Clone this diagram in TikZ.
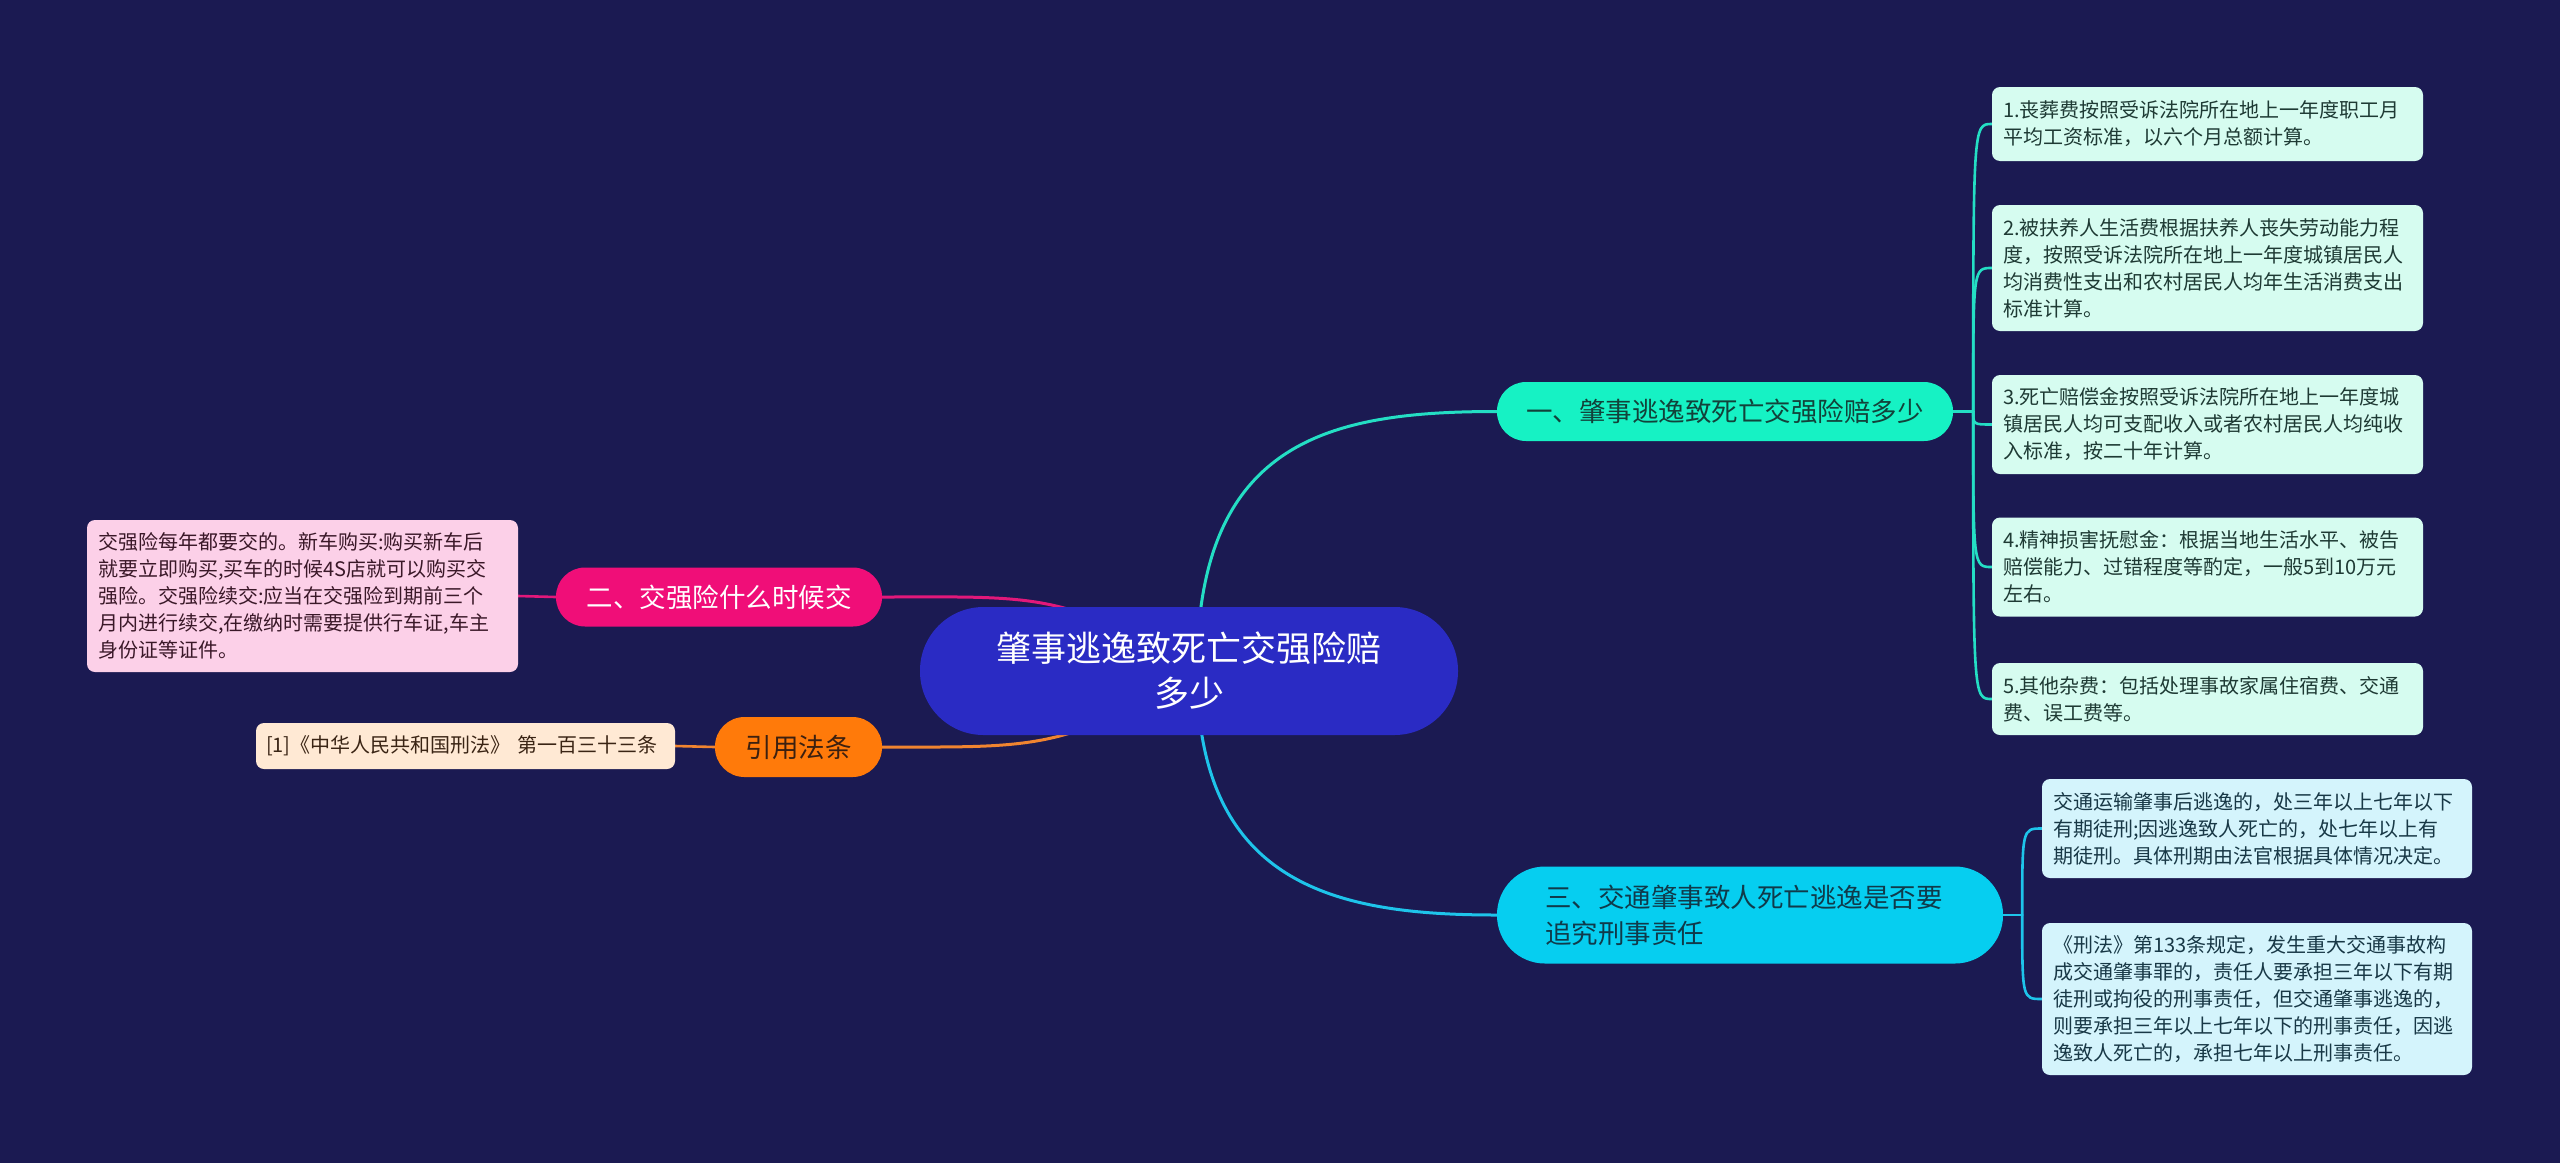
\documentclass[tikz,border=0pt]{standalone}
\usepackage{fontspec}
\setmainfont{Noto Sans CJK SC}
\usetikzlibrary{backgrounds,calc}
\definecolor{bg}{RGB}{27,26,82}
\definecolor{cfill}{RGB}{42,43,196}
\definecolor{tealfill}{RGB}{22,242,196}
\definecolor{tealline}{RGB}{36,222,196}
\definecolor{tealtext}{RGB}{18,66,58}
\definecolor{cyanfill}{RGB}{6,206,240}
\definecolor{cyanline}{RGB}{30,196,234}
\definecolor{cyantext}{RGB}{16,58,74}
\definecolor{pinkfill}{RGB}{240,14,120}
\definecolor{pinkline}{RGB}{226,24,122}
\definecolor{orangefill}{RGB}{255,122,10}
\definecolor{orangeline}{RGB}{240,132,48}
\definecolor{orangetext}{RGB}{60,32,16}
\definecolor{mintleaf}{RGB}{214,252,240}
\definecolor{mintleaftext}{RGB}{30,58,52}
\definecolor{cyanleaf}{RGB}{212,244,252}
\definecolor{cyanleaftext}{RGB}{24,56,70}
\definecolor{pinkleaf}{RGB}{252,208,232}
\definecolor{pinkleaftext}{RGB}{58,24,40}
\definecolor{peachleaf}{RGB}{255,233,212}
\definecolor{peachleaftext}{RGB}{58,36,20}
\tikzset{
  central/.style={fill=cfill, text=white, rounded corners=63.5pt, minimum width=538pt,
    minimum height=128pt, inner sep=0pt, align=center, font=\fontsize{35}{45}\selectfont},
  branch/.style={inner sep=0pt, align=center, font=\fontsize{26.5}{36}\selectfont},
  leaf/.style={rounded corners=8pt, inner xsep=11pt, inner ysep=0pt, align=left,
    font=\fontsize{20}{27}\selectfont},
  mleaf/.style={leaf, fill=mintleaf, text=mintleaftext, text width=409pt, minimum width=431pt},
  cleaf/.style={leaf, fill=cyanleaf, text=cyanleaftext, text width=408pt, minimum width=430pt},
  conn/.style={line width=3pt, line cap=round},
  brk/.style={line width=2.6pt, line cap=round},
}
\begin{document}
\begin{tikzpicture}[x=1pt, y=-1pt]
\useasboundingbox (0,0) rectangle (2560,1163);
% central
\node[central] (c) at (1189,671) {肇事逃逸致死亡交强险赔\\多少};
% branches
\node[branch, fill=tealfill, text=tealtext, minimum width=456pt, minimum height=59pt,
  rounded corners=29pt] (b1) at (1725,411.5) {一、肇事逃逸致死亡交强险赔多少};
\node[branch, fill=cyanfill, text=cyantext, minimum width=506pt, minimum height=97pt,
  rounded corners=48pt, align=left, text width=410pt, inner xsep=48pt] (b3) at (1750,915)
  {三、交通肇事致人死亡逃逸是否要\\追究刑事责任};
\node[branch, fill=pinkfill, text=white, minimum width=326pt, minimum height=59pt,
  rounded corners=29pt] (b2) at (719,597) {二、交强险什么时候交};
\node[branch, fill=orangefill, text=orangetext, minimum width=167pt, minimum height=60pt,
  rounded corners=29.5pt] (b4) at (798.5,747) {引用法条};
% leaves of branch 1
\node[mleaf, minimum height=74pt] (l1) at (2207.5,124)
  {1.丧葬费按照受诉法院所在地上一年度职工月\\平均工资标准，以六个月总额计算。};
\node[mleaf, minimum height=126pt] (l2) at (2207.5,268)
  {2.被扶养人生活费根据扶养人丧失劳动能力程\\度，按照受诉法院所在地上一年度城镇居民人\\均消费性支出和农村居民人均年生活消费支出\\标准计算。};
\node[mleaf, minimum height=99pt] (l3) at (2207.5,424.5)
  {3.死亡赔偿金按照受诉法院所在地上一年度城\\镇居民人均可支配收入或者农村居民人均纯收\\入标准，按二十年计算。};
\node[mleaf, minimum height=99pt] (l4) at (2207.5,567)
  {4.精神损害抚慰金：根据当地生活水平、被告\\赔偿能力、过错程度等酌定，一般5到10万元\\左右。};
\node[mleaf, minimum height=72pt] (l5) at (2207.5,699)
  {5.其他杂费：包括处理事故家属住宿费、交通\\费、误工费等。};
% leaves of branch 3
\node[cleaf, minimum height=99pt] (la) at (2257,828.5)
  {交通运输肇事后逃逸的，处三年以上七年以下\\有期徒刑;因逃逸致人死亡的，处七年以上有\\期徒刑。具体刑期由法官根据具体情况决定。};
\node[cleaf, minimum height=152pt] (lb) at (2257,999)
  {《刑法》第133条规定，发生重大交通事故构\\成交通肇事罪的，责任人要承担三年以下有期\\徒刑或拘役的刑事责任，但交通肇事逃逸的，\\则要承担三年以上七年以下的刑事责任，因逃\\逸致人死亡的，承担七年以上刑事责任。};
% left leaves
\node[leaf, fill=pinkleaf, text=pinkleaftext, text width=409pt, minimum width=431pt,
  minimum height=152pt] (lp) at (302.5,596)
  {交强险每年都要交的。新车购买:购买新车后\\就要立即购买,买车的时候4S店就可以购买交\\强险。交强险续交:应当在交强险到期前三个\\月内进行续交,在缴纳时需要提供行车证,车主\\身份证等证件。};
\node[leaf, fill=peachleaf, text=peachleaftext, text width=399pt, minimum width=419pt,
  minimum height=46pt, inner xsep=10pt] (lo) at (465.5,746)
  {[1]《中华人民共和国刑法》 第一百三十三条};
% connectors
\begin{scope}[on background layer]
\fill[bg] (0,0) rectangle (2560,1163);
\draw[conn, tealline] ([xshift=8pt]c.center) .. controls +(0,-231) and +(-167,0) .. (b1.west);
\draw[conn, cyanline] ([xshift=8pt]c.center) .. controls +(0,215) and +(-160,0) .. (b3.west);
\draw[conn, pinkline] (c.center) .. controls +(-120,-80) and +(150,0) .. (b2.east);
\draw[conn, orangeline] (c.center) .. controls +(-120,80) and +(150,0) .. (b4.east);
\coordinate (j1) at ($(b1.east)+(20,0)$);
\coordinate (j3) at ($(b3.east)+(19,0)$);
\draw[brk, tealline] (b1.east) -- (j1);
\foreach \l in {l1,l2,l3,l4,l5}
  \draw[brk, tealline] (j1) .. controls (j1 |- \l.west) and (j1 |- \l.west) .. (\l.west);
\draw[brk, cyanline] (b3.east) -- (j3);
\foreach \l in {la,lb}
  \draw[brk, cyanline] (j3) .. controls (j3 |- \l.west) and (j3 |- \l.west) .. (\l.west);
\draw[brk, pinkline] (b2.west) -- (lp.east);
\draw[brk, orangeline] (b4.west) -- (lo.east);
\end{scope}
\end{tikzpicture}
\end{document}
